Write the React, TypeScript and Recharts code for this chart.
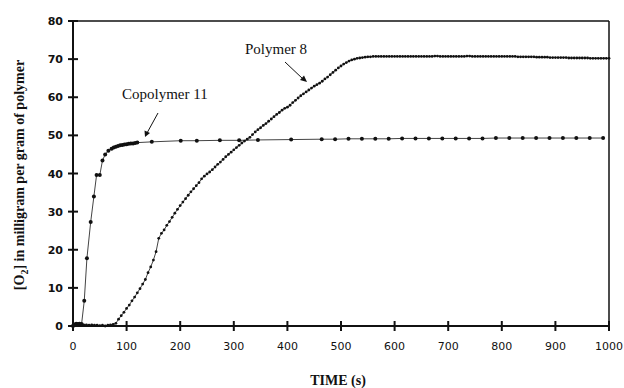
import { LineChart, Line, XAxis, YAxis, ReferenceLine } from 'recharts'

// Copolymer 11 — sample times (s) and [O2] (mg/g)
const copoTimes = [
  0, 3, 6, 9, 12, 16, 21, 26, 33, 39, 44, 50, 55, 60, 66, 72, 76, 80, 84, 88, 92, 96, 100, 104, 108, 112,
  116, 120, 147, 201, 231, 274, 310, 345, 407, 464, 489, 514, 539, 564, 589, 614, 639, 664, 689, 714, 739,
  764, 789, 814, 839, 864, 889, 914, 939, 964, 989,
]
const copoValues = [
  0.0, 0.4, 0.6, 0.5, 0.6, 0.5, 6.6, 17.8, 27.3, 34.0, 39.6, 39.6, 43.4, 45.0, 46.0, 46.5, 46.8, 47.0, 47.2,
  47.4, 47.5, 47.6, 47.7, 47.8, 47.9, 47.9, 48.0, 48.1, 48.3, 48.6, 48.6, 48.7, 48.7, 48.8, 48.9, 49.0, 49.0,
  49.1, 49.1, 49.1, 49.1, 49.2, 49.2, 49.2, 49.2, 49.2, 49.2, 49.2, 49.3, 49.3, 49.3, 49.3, 49.3, 49.3, 49.3,
  49.3, 49.3,
]

// Polymer 8 — sampled every 5 s from 0 to 1000 s
const polyStart = 0
const polyStep = 5
const polyValues = [
  0.2, 0.3, 0.3, 0.2, 0.3, 0.3, 0.2, 0.3, 0.2, 0.2, 0.1, 0.2, 0.0, 0.2, 0.3, 0.4, 0.7,
  1.8, 2.7, 3.6, 4.6, 5.5, 6.6, 7.6, 8.7, 9.8, 11.0, 12.2, 14.0, 15.5, 17.3, 19.5, 23.0,
  24.3, 25.2, 26.4, 27.4, 28.5, 29.6, 30.6, 31.6, 32.5, 33.4, 34.3, 35.2, 36.0, 36.8, 37.6, 38.6,
  39.3, 39.9, 40.4, 41.0, 41.7, 42.4, 43.0, 43.7, 44.4, 45.0, 45.6, 46.2,
  46.8, 47.4, 48.0, 48.5, 49.0, 49.5, 50.2, 50.9, 51.5, 52.0, 52.6, 53.1, 53.7, 54.3, 54.9, 55.5,
  56.0, 56.6, 57.1, 57.4, 57.9, 58.6, 59.2, 59.8, 60.4, 60.9, 61.4, 61.9, 62.4, 62.9, 63.3, 63.7,
  64.2, 64.8, 65.3, 65.9, 66.5, 67.1, 67.7, 68.2, 68.7, 69.1, 69.5, 69.8, 70.0, 70.2, 70.3, 70.4,
  70.5, 70.6, 70.6, 70.7,
  70.7, 70.7, 70.7, 70.7, 70.7, 70.7, 70.7, 70.7, 70.7, 70.7,
  70.7, 70.7, 70.7, 70.7, 70.7, 70.7, 70.7, 70.7, 70.7, 70.7,
  70.7, 70.7, 70.8, 70.8, 70.7, 70.7, 70.7, 70.7, 70.7, 70.7,
  70.7, 70.7, 70.7, 70.7, 70.8, 70.8, 70.7, 70.7, 70.7, 70.7,
  70.7, 70.7, 70.7, 70.7, 70.7, 70.7, 70.7, 70.7, 70.7, 70.7,
  70.7, 70.7, 70.7, 70.6, 70.6, 70.6, 70.6, 70.6,
  70.6, 70.6, 70.5, 70.5, 70.5, 70.5, 70.5, 70.4, 70.4, 70.4,
  70.4, 70.4, 70.4, 70.4, 70.3, 70.3, 70.3, 70.3, 70.3, 70.3,
  70.3, 70.3, 70.2, 70.2, 70.2, 70.2, 70.2, 70.2, 70.2, 70.2,
]

const xTicks = [0, 100, 200, 300, 400, 500, 600, 700, 800, 900, 1000]
const yTicks = [0, 10, 20, 30, 40, 50, 60, 70, 80]

const copoData = copoTimes.map((t, i) => ({ t, v: copoValues[i] }))
const polyData = polyValues.map((v, i) => ({ t: polyStart + i * polyStep, v }))

const INK = '#111'

function XTick({ x, y, payload }: any) {
  return (
    <g>
      <line x1={x} x2={x} y1={y - 5} y2={y + 5} stroke={INK} strokeWidth={2} />
      <text
        x={x}
        y={y + 24}
        textAnchor="middle"
        fontFamily="DejaVu Sans, sans-serif"
        fontSize={11}
        fill={INK}
      >
        {payload.value}
      </text>
    </g>
  )
}

function YTick({ x, y, payload }: any) {
  return (
    <g>
      <line x1={x - 5} x2={x + 5} y1={y} y2={y} stroke={INK} strokeWidth={2} />
      <text
        x={x - 10}
        y={y + 4}
        textAnchor="end"
        fontFamily="DejaVu Sans, sans-serif"
        fontWeight="bold"
        fontSize={11}
        fill={INK}
      >
        {payload.value}
      </text>
    </g>
  )
}

export default function App() {
  return (
    <div style={{ position: 'absolute', left: 0, top: 0, width: 624, height: 388, background: '#fff' }}>
      <LineChart width={624} height={388} margin={{ top: 21, right: 15, bottom: 0, left: 0 }}>
        <XAxis
          dataKey="t"
          type="number"
          domain={[0, 1000]}
          ticks={xTicks}
          allowDuplicatedCategory={false}
          height={62}
          tickSize={0}
          tickMargin={0}
          tickLine={false}
          axisLine={{ stroke: INK, strokeWidth: 2 }}
          tick={<XTick />}
          interval={0}
        />
        <YAxis
          type="number"
          domain={[0, 80]}
          ticks={yTicks}
          width={73}
          tickSize={0}
          tickMargin={0}
          tickLine={false}
          axisLine={{ stroke: INK, strokeWidth: 2 }}
          tick={<YTick />}
          interval={0}
        />
        <ReferenceLine y={80} stroke={INK} strokeWidth={1.5} />
        <ReferenceLine x={1000} stroke={INK} strokeWidth={1.5} />
        <Line
          data={polyData}
          dataKey="v"
          type="linear"
          stroke="#444"
          strokeWidth={1}
          dot={{ r: 1.4, fill: INK, stroke: 'none' }}
          isAnimationActive={false}
        />
        <Line
          data={copoData}
          dataKey="v"
          type="linear"
          stroke="#444"
          strokeWidth={1}
          dot={{ r: 2, fill: INK, stroke: 'none' }}
          isAnimationActive={false}
        />
      </LineChart>
      <svg
        width={624}
        height={388}
        style={{ position: 'absolute', left: 0, top: 0, pointerEvents: 'none' }}
      >
        <text
          transform="translate(24,175) rotate(-90)"
          textAnchor="middle"
          fontFamily="Liberation Serif, serif"
          fontWeight="bold"
          fontSize={14}
          fill={INK}
        >
          [O<tspan fontSize={10} dy={4}>2</tspan>
          <tspan dy={-4}>] in milligram per gram of polymer</tspan>
        </text>
        <text
          x={338}
          y={385}
          textAnchor="middle"
          fontFamily="Liberation Serif, serif"
          fontWeight="bold"
          fontSize={14}
          fill={INK}
        >
          TIME (s)
        </text>
        <text x={122} y={99} fontFamily="Liberation Serif, serif" fontSize={15} fill={INK}>
          Copolymer 11
        </text>
        <text x={245} y={54} fontFamily="Liberation Serif, serif" fontSize={15} fill={INK}>
          Polymer 8
        </text>
        <line x1={158} y1={113} x2={147} y2={133} stroke={INK} strokeWidth={1} />
        <polygon points="145,137 144.5,130.5 150,133" fill={INK} />
        <line x1={285} y1={62} x2={303} y2={79} stroke={INK} strokeWidth={1} />
        <polygon points="307,82 300,80 304,75.5" fill={INK} />
      </svg>
    </div>
  )
}
